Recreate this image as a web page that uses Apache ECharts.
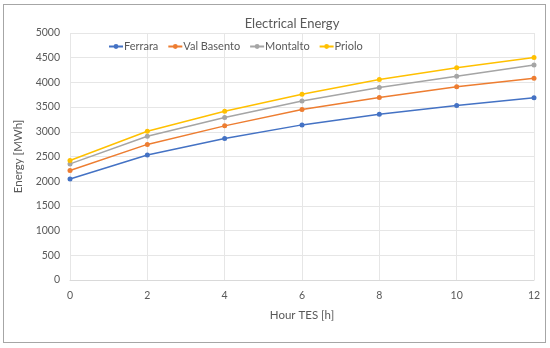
<!DOCTYPE html>
<html><head><meta charset="utf-8">
<script src="https://cdn.jsdelivr.net/npm/echarts@6/dist/echarts.min.js"></script>
<style>html,body{margin:0;padding:0;background:#fff}#c{width:550px;height:348px}
#frame{position:absolute;left:3px;top:4px;width:541px;height:337px;border:1px solid #a6a6a6;pointer-events:none}</style>
</head><body><div id="c"></div><div id="frame"></div>
<script>
const hours = [0, 2, 4, 6, 8, 10, 12];
const seriesNames = ['Ferrara', 'Val Basento', 'Montalto', 'Priolo'];
const ferrara = [2045, 2530, 2865, 3140, 3355, 3530, 3690];
const valBasento = [2215, 2745, 3120, 3450, 3695, 3910, 4085];
const montalto = [2350, 2910, 3290, 3625, 3895, 4125, 4350];
const priolo = [2420, 3010, 3415, 3760, 4060, 4295, 4505];
const colors = ['#4472C4', '#ED7D31', '#A5A5A5', '#FFC000'];
const values = [ferrara, valBasento, montalto, priolo];

const chart = echarts.init(document.getElementById('c'));
const font = 'Lato, Open Sans, sans-serif';
chart.setOption({
  animation: false,
  textStyle: { fontFamily: font },
  title: { text: 'Electrical Energy', left: 287, top: 12, textAlign: 'center',
    textStyle: { fontSize: 13, fontWeight: 'normal', color: '#595959', fontFamily: font } },
  legend: { left: 108, top: 41, padding: 0, itemWidth: 14, itemHeight: 6, itemGap: 9,
    textStyle: { fontSize: 11, color: '#595959', fontFamily: font, padding: [0, 0, 0, -4] },
    data: seriesNames },
  grid: { left: 70, right: 16, top: 33, bottom: 68 },
  xAxis: { type: 'value', min: 0, max: 12, interval: 2,
    name: 'Hour TES [h]', nameLocation: 'middle', nameGap: 29,
    nameTextStyle: { fontSize: 11.5, color: '#595959' },
    axisLine: { show: true, lineStyle: { color: '#d9d9d9' } },
    axisTick: { show: false },
    axisLabel: { fontSize: 10.5, color: '#595959', margin: 10 },
    splitLine: { show: true, lineStyle: { color: '#e6e6e6' } } },
  yAxis: { type: 'value', min: 0, max: 5000, interval: 500,
    name: 'Energy [MWh]', nameLocation: 'middle', nameGap: 45,
    nameTextStyle: { fontSize: 11.5, color: '#595959' },
    axisLine: { show: false }, axisTick: { show: false },
    axisLabel: { fontSize: 10.5, color: '#595959', margin: 10, formatter: v => String(v) },
    splitLine: { show: true, lineStyle: { color: '#e6e6e6' } } },
  series: seriesNames.map((n, i) => ({
    name: n, type: 'line', symbol: 'circle', symbolSize: 5,
    itemStyle: { color: colors[i] }, lineStyle: { width: 1.5, color: colors[i] },
    data: hours.map((h, j) => [h, values[i][j]])
  }))
});
</script></body></html>
